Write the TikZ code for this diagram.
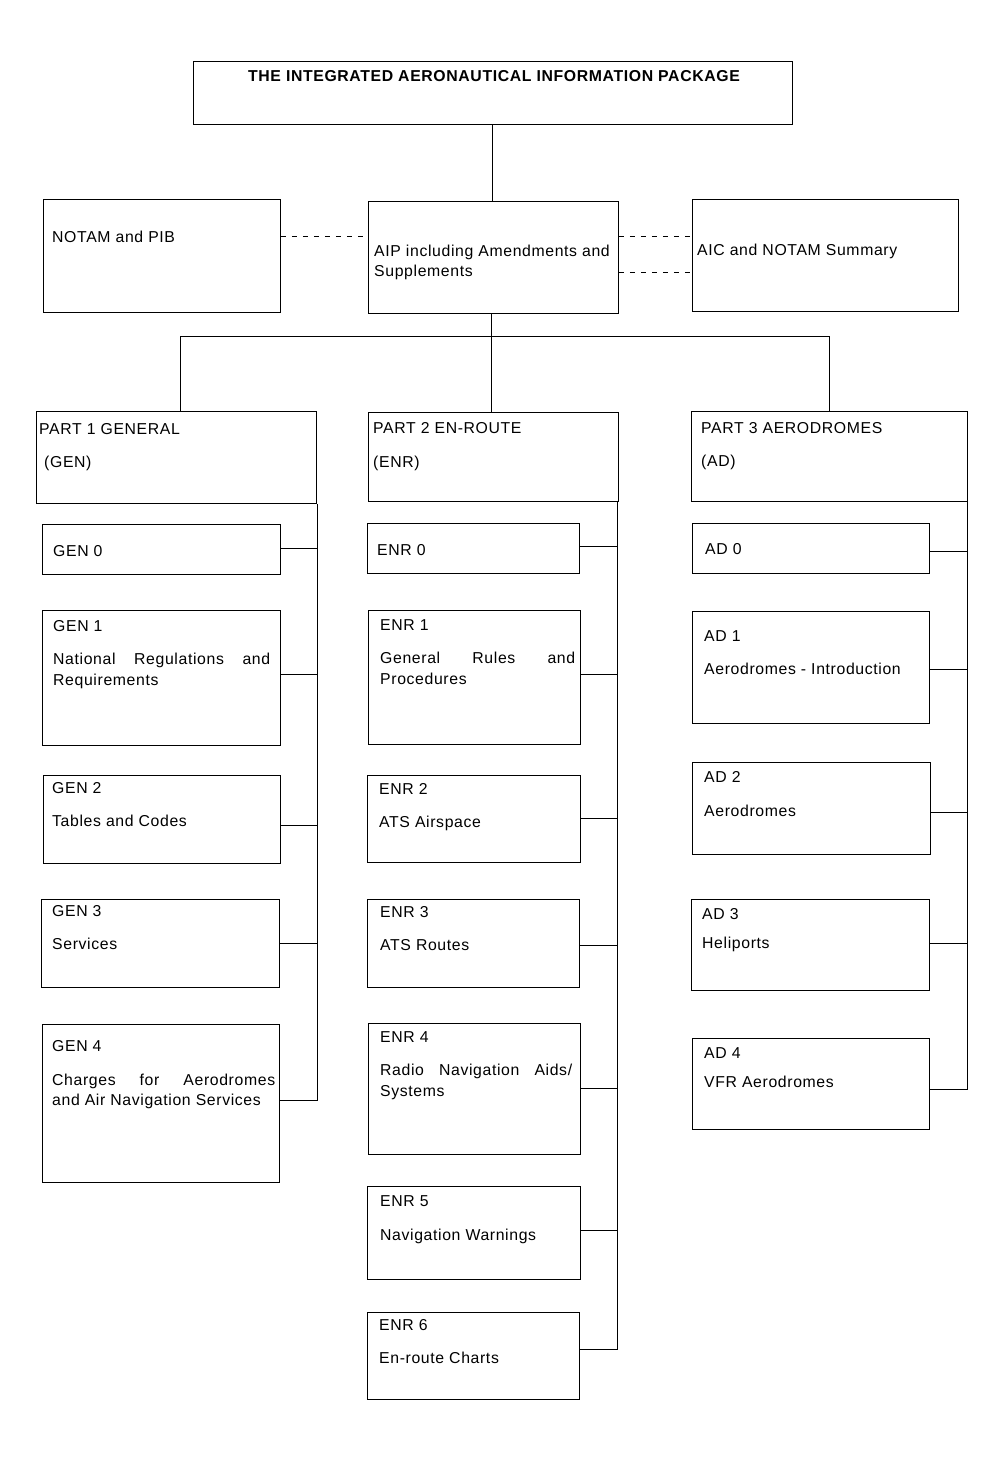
\documentclass[tikz,border=0pt]{standalone}
\usepackage{fontspec}
\setmainfont{Liberation Sans}[LetterSpace=4]
\usetikzlibrary{calc}
\newcommand\bx[5]{\node[box, minimum width=#4pt-#2pt, minimum height=#5pt-#3pt] (#1) at (#2,#3) {};}
\begin{document}
\begin{tikzpicture}[x=1pt,y=-1pt,
  box/.style={draw, line width=0.9pt, inner sep=0pt, anchor=north west},
  lbl/.style={anchor=base west, inner sep=0pt, font=\fontsize{15.8}{20}\selectfont},
  ttl/.style={anchor=base, inner sep=0pt, font=\fontsize{15.8}{20}\selectfont\bfseries},
  ln/.style={line width=0.9pt},
  dsh/.style={line width=0.9pt, dash pattern=on 5.5pt off 5.5pt}]
\useasboundingbox (0,0) rectangle (1004,1460);
% boxes
\bx{top}{193}{61}{792}{124}
\bx{notam}{43}{199}{280}{312}
\bx{aip}{368}{201}{618}{313}
\bx{aic}{692}{199}{958}{311}
\bx{p1}{36}{411}{316}{503}
\bx{p2}{368}{412}{618}{501}
\bx{p3}{691}{411}{967}{501}
\bx{gen0}{42}{524}{280}{574}
\bx{gen1}{42}{610}{280}{745}
\bx{gen2}{43}{775}{280}{863}
\bx{gen3}{41}{899}{279}{987}
\bx{gen4}{42}{1024}{279}{1182}
\bx{enr0}{367}{523}{579}{573}
\bx{enr1}{368}{610}{580}{744}
\bx{enr2}{367}{775}{580}{862}
\bx{enr3}{367}{899}{579}{987}
\bx{enr4}{368}{1023}{580}{1154}
\bx{enr5}{367}{1186}{580}{1279}
\bx{enr6}{367}{1312}{579}{1399}
\bx{ad0}{692}{523}{929}{573}
\bx{ad1}{692}{611}{929}{723}
\bx{ad2}{692}{762}{930}{854}
\bx{ad3}{691}{899}{929}{990}
\bx{ad4}{692}{1038}{929}{1129}
% texts
\node[ttl] (ttop) at (494,81) {THE INTEGRATED AERONAUTICAL INFORMATION PACKAGE};
\node[lbl] (tnotam) at (52,242) {NOTAM and PIB};
\node[lbl] (taip1) at (374,256) {AIP including Amendments and};
\node[lbl] (taip2) at (374,276) {Supplements};
\node[lbl] (taic) at (697,255) {AIC and NOTAM Summary};
\node[lbl] (tp1a) at (39,434) {PART 1 GENERAL};
\node[lbl] (tp1b) at (44,467) {(GEN)};
\node[lbl] (tp2a) at (373,433) {PART 2 EN-ROUTE};
\node[lbl] (tp2b) at (373,467) {(ENR)};
\node[lbl] (tp3a) at (701,433) {PART 3 AERODROMES};
\node[lbl] (tp3b) at (701,466) {(AD)};
\node[lbl] (tgen0) at (53,556) {GEN 0};
\node[lbl] (tgen1a) at (53,631) {GEN 1};
\node[lbl] (tgen1b) at (53,664) {\makebox[217pt][s]{National Regulations and}};
\node[lbl] (tgen1c) at (53,685) {Requirements};
\node[lbl] (tgen2a) at (52,793) {GEN 2};
\node[lbl] (tgen2b) at (52,826) {Tables and Codes};
\node[lbl] (tgen3a) at (52,916) {GEN 3};
\node[lbl] (tgen3b) at (52,949) {Services};
\node[lbl] (tgen4a) at (52,1051) {GEN 4};
\node[lbl] (tgen4b) at (52,1085) {\makebox[223pt][s]{Charges for Aerodromes}};
\node[lbl] (tgen4c) at (52,1105) {and Air Navigation Services};
\node[lbl] (tenr0) at (377,555) {ENR 0};
\node[lbl] (tenr1a) at (380,630) {ENR 1};
\node[lbl] (tenr1b) at (380,663) {\makebox[195pt][s]{General Rules and}};
\node[lbl] (tenr1c) at (380,684) {Procedures};
\node[lbl] (tenr2a) at (379,794) {ENR 2};
\node[lbl] (tenr2b) at (379,827) {ATS Airspace};
\node[lbl] (tenr3a) at (380,917) {ENR 3};
\node[lbl] (tenr3b) at (380,950) {ATS Routes};
\node[lbl] (tenr4a) at (380,1042) {ENR 4};
\node[lbl] (tenr4b) at (380,1075) {\makebox[192pt][s]{Radio Navigation Aids/}};
\node[lbl] (tenr4c) at (380,1096) {Systems};
\node[lbl] (tenr5a) at (380,1206) {ENR 5};
\node[lbl] (tenr5b) at (380,1240) {Navigation Warnings};
\node[lbl] (tenr6a) at (379,1330) {ENR 6};
\node[lbl] (tenr6b) at (379,1363) {En-route Charts};
\node[lbl] (tad0) at (705,554) {AD 0};
\node[lbl] (tad1a) at (704,641) {AD 1};
\node[lbl] (tad1b) at (704,674) {Aerodromes - Introduction};
\node[lbl] (tad2a) at (704,782) {AD 2};
\node[lbl] (tad2b) at (704,816) {Aerodromes};
\node[lbl] (tad3a) at (702,919) {AD 3};
\node[lbl] (tad3b) at (702,948) {Heliports};
\node[lbl] (tad4a) at (704,1058) {AD 4};
\node[lbl] (tad4b) at (704,1087) {VFR Aerodromes};
% connectors
\draw[ln] (top.south -| 492,0) -- (aip.north -| 492,0);
\draw[dsh] (notam.east |- 0,236) -- (aip.west |- 0,236);
\draw[dsh] (aip.east |- 0,236) -- (aic.west |- 0,236);
\draw[dsh] (aip.east |- 0,272) -- (aic.west |- 0,272);
\coordinate (split) at (491,336);
\draw[ln] (aip.south -| split) -- (split);
\draw[ln] (p1.north -| 180,0) -- (180,336) -- (829,336) -- (p3.north -| 829,0);
\draw[ln] (split) -- (p2.north -| split);
% GEN bus
\coordinate (gbus) at (317,1100);
\draw[ln] (p1.south -| gbus) -- (gbus) -- (gen4.east |- gbus);
\draw[ln] (gen0.east |- 0,548) -- (gbus |- 0,548);
\draw[ln] (gen1.east |- 0,674) -- (gbus |- 0,674);
\draw[ln] (gen2.east |- 0,825) -- (gbus |- 0,825);
\draw[ln] (gen3.east |- 0,943) -- (gbus |- 0,943);
% ENR bus
\coordinate (ebus) at (617,1349);
\draw[ln] (p2.south -| ebus) -- (ebus) -- (enr6.east |- ebus);
\draw[ln] (enr0.east |- 0,546) -- (ebus |- 0,546);
\draw[ln] (enr1.east |- 0,674) -- (ebus |- 0,674);
\draw[ln] (enr2.east |- 0,818) -- (ebus |- 0,818);
\draw[ln] (enr3.east |- 0,945) -- (ebus |- 0,945);
\draw[ln] (enr4.east |- 0,1088) -- (ebus |- 0,1088);
\draw[ln] (enr5.east |- 0,1230) -- (ebus |- 0,1230);
% AD bus
\coordinate (abus) at (967,1089);
\draw[ln] (p3.south -| abus) -- (abus) -- (ad4.east |- abus);
\draw[ln] (ad0.east |- 0,551) -- (abus |- 0,551);
\draw[ln] (ad1.east |- 0,669) -- (abus |- 0,669);
\draw[ln] (ad2.east |- 0,812) -- (abus |- 0,812);
\draw[ln] (ad3.east |- 0,943) -- (abus |- 0,943);
\end{tikzpicture}
\end{document}
